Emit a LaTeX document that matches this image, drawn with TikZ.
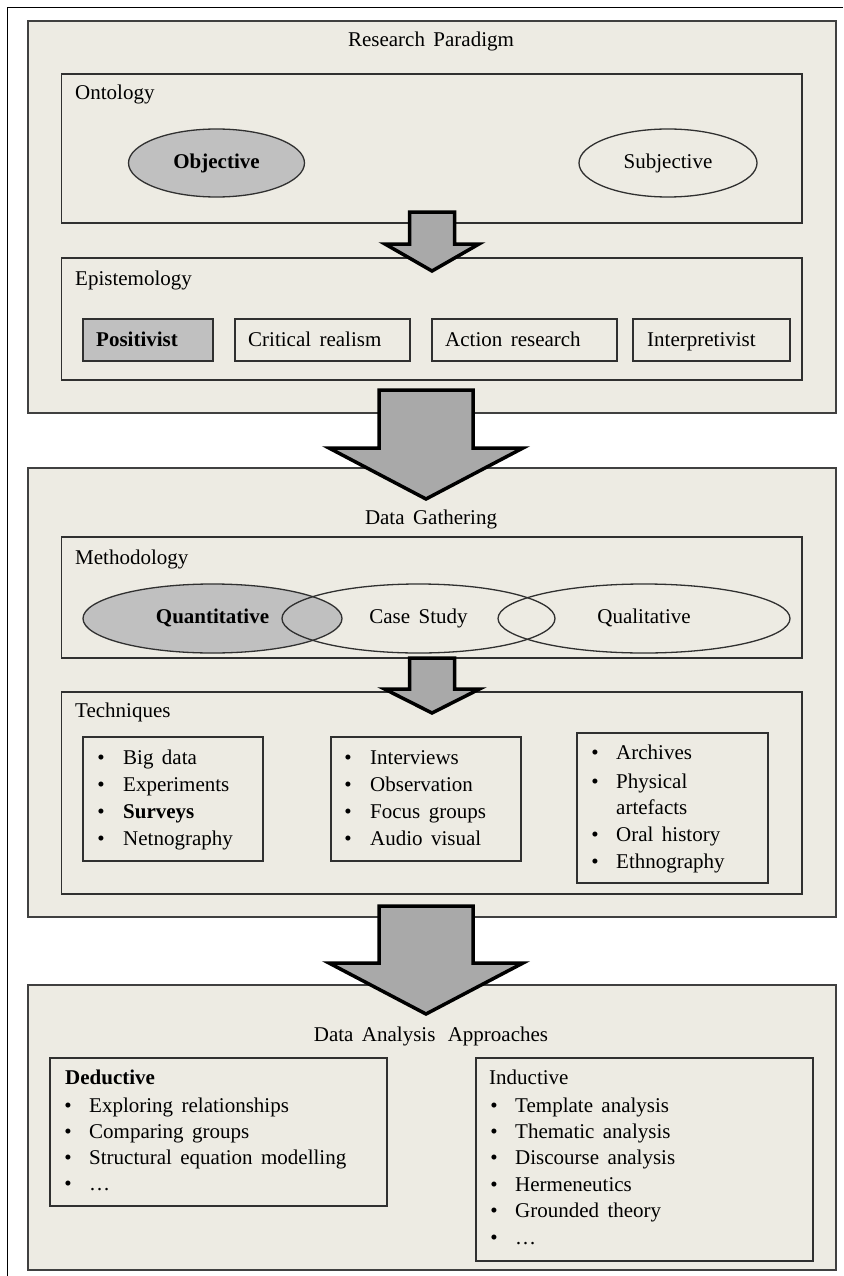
\documentclass[tikz,border=0pt]{standalone}
\usepackage{fontspec}
\setmainfont{Liberation Serif}[WordSpace=1.6]
\usetikzlibrary{shapes.geometric}

\definecolor{panelfill}{HTML}{EDEBE3}
\definecolor{panelline}{HTML}{404040}
\definecolor{boxline}{HTML}{303030}
\definecolor{shade}{HTML}{C0C0C0}
\definecolor{arrowfill}{HTML}{A9A9A9}

\newcommand\figfont{\fontsize{21}{25}\selectfont}

\tikzset{
  frame/.style={draw=black, line width=1.5pt},
  panel/.style={draw=panelline, line width=2pt, fill=panelfill},
  box/.style={draw=boxline, line width=1.5pt},
  oval/.style={ellipse, draw=boxline, line width=1.3pt, inner sep=0pt,
    font=\figfont, text height=14pt, text depth=4pt},
  item/.style={font=\figfont, inner sep=0pt, anchor=base west},
  bul/.style={font=\figfont, inner sep=0pt, anchor=base},
  ttl/.style={font=\figfont, inner sep=0pt, anchor=base},
  blockarrow/.style={draw=black, line width=3.5pt, fill=arrowfill, line join=miter},
}

% downward block arrow: centre x, shaft half width, top, head base, head half width, tip
\newcommand\blockarrow[6]{%
  \draw[blockarrow] ({#1-#2},#3) -- ({#1+#2},#3) -- ({#1+#2},#4) -- ({#1+#5},#4)
    -- (#1,#6) -- ({#1-#5},#4) -- ({#1-#2},#4) -- cycle;}

\begin{document}
\begin{tikzpicture}[x=1pt,y=-1pt]
\useasboundingbox (0,0) rectangle (843,1276);

% outer frame, open to the right and bottom
\draw[frame] (843,7.5) -- (7.5,7.5) -- (7.5,1276);

% three stage panels
\draw[panel] (27.5,21) rectangle (836,413);
\draw[panel] (27.5,468) rectangle (836,917);
\draw[panel] (27.5,985) rectangle (836,1270);

% ---------- Research paradigm ----------
\node[ttl] (rp) at (431,47) {Research Paradigm};

\draw[box] (61.5,74) rectangle (802,223);
\node[item] (onto) at (75,100) {Ontology};
\node[oval, fill=shade, minimum width=176pt, minimum height=68pt] (obj) at (216.5,163) {\textbf{Objective}};
\node[oval, minimum width=178pt, minimum height=68pt] (subj) at (668,163) {Subjective};

\draw[box] (61.5,258) rectangle (802,380);
\node[item] (epi) at (75,285) {Epistemology};
\draw[box, fill=shade] (83,319) rectangle (213,361);
\draw[box] (235,319) rectangle (410,361);
\draw[box] (432,319) rectangle (617,361);
\draw[box] (633,319) rectangle (790,361);
\node[item] (pos) at (96,346) {\textbf{Positivist}};
\node[item] (cr) at (248,346) {Critical realism};
\node[item] (ar) at (445,346) {Action research};
\node[item] (ip) at (647,346) {Interpretivist};

% ---------- Data gathering ----------
\node[ttl] (dg) at (431,524) {Data Gathering};

\draw[box] (61.5,537) rectangle (802,658);
\node[item] (meth) at (75,564) {Methodology};
\node[oval, fill=shade, minimum width=259pt, minimum height=69pt] (quan) at (212.5,618.5) {\textbf{Quantitative}};
\node[oval, minimum width=273pt, minimum height=69pt] (case) at (418.5,618.5) {Case Study};
\node[oval, minimum width=292pt, minimum height=69pt] (qual) at (644,618.5) {Qualitative};

\draw[box] (61.5,692) rectangle (802,894);
\node[item] (tech) at (75,717) {Techniques};

\draw[box] (83,737) rectangle (263,861);
\draw[box] (331,737) rectangle (521,861);
\draw[box] (577,733) rectangle (768,883);

\foreach \txt [count=\i] in {Big data, Experiments, \textbf{Surveys}, Netnography} {
  \node[bul] (qb\i) at (101,{764+27*(\i-1)}) {•};
  \node[item] (qt\i) at (123,{764+27*(\i-1)}) {\txt};
}
\foreach \txt [count=\i] in {Interviews, Observation, Focus groups, Audio visual} {
  \node[bul] (mb\i) at (348,{764+27*(\i-1)}) {•};
  \node[item] (mt\i) at (370,{764+27*(\i-1)}) {\txt};
}
\node[bul] (sb1) at (595,759) {•};
\node[item] (st1) at (616,759) {Archives};
\node[bul] (sb2) at (595,788) {•};
\node[item] (st2) at (616,788) {Physical};
\node[item] (st2b) at (616,814) {artefacts};
\node[bul] (sb3) at (595,841) {•};
\node[item] (st3) at (616,841) {Oral history};
\node[bul] (sb4) at (595,868) {•};
\node[item] (st4) at (616,868) {Ethnography};

% ---------- Data analysis ----------
\node[ttl] (daa) at (431,1041) {Data Analysis\hspace{4pt} Approaches};

\draw[box] (50,1058) rectangle (387,1206);
\node[item] (ded) at (65,1084) {\textbf{Deductive}};
\foreach \txt [count=\i] in {Exploring relationships, Comparing groups, Structural equation modelling, …} {
  \node[bul] (db\i) at (68,{1112+26.3*(\i-1)}) {•};
  \node[item] (dt\i) at (89,{1112+26.3*(\i-1)}) {\txt};
}

\draw[box] (476,1058) rectangle (813,1261);
\node[item] (ind) at (489,1084) {Inductive};
\foreach \txt [count=\i] in {Template analysis, Thematic analysis, Discourse analysis, Hermeneutics, Grounded theory, …} {
  \node[bul] (ib\i) at (494,{1112+26.4*(\i-1)}) {•};
  \node[item] (it\i) at (515,{1112+26.4*(\i-1)}) {\txt};
}

% ---------- flow arrows ----------
\blockarrow{432}{22.5}{212}{244}{47}{271}
\blockarrow{426}{47}{390}{448}{97}{499}
\blockarrow{432}{22.5}{658}{689}{47.5}{713}
\blockarrow{426}{47}{906}{963}{97}{1014}
\end{tikzpicture}
\end{document}
